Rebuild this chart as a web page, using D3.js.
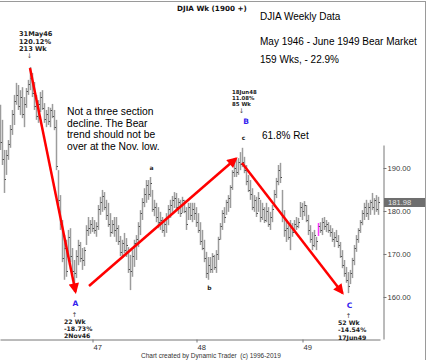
<!DOCTYPE html>
<html><head><meta charset="utf-8">
<script src="https://cdn.jsdelivr.net/npm/d3@7"></script>
<style>body{margin:0;background:#fff}svg{display:block}</style>
</head><body>
<script>
// ---- data (weekly DJIA bars) ----
const startDate = new Date(1946, 1, 15);
const highs = [204.7,201.2,194.2,194.2,196.5,200.0,203.5,207.0,209.8,209.3,
208.1,208.8,206.5,208.6,210.5,213.5,212.1,210.0,207.0,205.8,
207.7,208.1,205.1,203.5,204.2,204.0,204.9,203.5,201.2,189.5,
183.7,177.9,174.4,173.3,175.6,176.0,171.4,168.6,170.9,173.3,
172.8,171.4,171.6,176.7,178.6,177.9,178.6,177.9,177.4,181.4,
183.3,184.9,184.4,182.6,181.9,179.5,177.9,178.6,178.6,176.7,
174.2,173.3,174.9,173.7,171.6,169.8,170.9,173.3,174.4,177.4,
180.2,183.0,185.3,187.2,187.2,187.9,184.9,182.6,181.9,180.9,
179.8,178.6,177.9,179.5,181.4,182.6,183.5,184.4,184.2,183.0,
182.6,183.3,182.6,180.9,181.9,181.9,181.9,181.9,180.9,179.5,
177.4,175.6,173.3,170.5,169.3,169.3,170.2,169.8,170.9,174.0,
177.2,180.2,180.9,182.6,183.7,186.0,189.5,192.3,191.9,192.3,
193.7,194.7,192.6,190.7,188.4,187.2,185.3,183.7,183.3,184.4,
182.6,181.9,180.9,181.9,180.9,179.8,181.4,184.9,187.7,190.7,
191.2,184.9,180.2,177.9,176.7,177.9,177.2,177.9,178.6,178.4,
182.1,181.9,182.3,181.4,179.1,176.7,175.1,175.6,174.0,177.2,
177.4,178.4,178.6,177.9,177.4,176.7,176.0,175.1,175.6,174.4,
172.8,170.9,168.6,167.0,165.8,166.3,169.1,172.1,174.4,176.0,
177.9,180.2,181.9,182.6,181.9,182.6,184.2,183.0,183.7,183.3];
const lows = [194.2,190.7,184.2,188.4,191.9,194.7,197.7,200.0,204.7,203.5,
202.3,201.6,199.5,204.0,207.0,208.1,206.5,203.5,201.2,200.5,
203.0,203.5,200.5,199.5,200.0,199.5,201.6,198.8,189.5,181.4,
175.6,168.1,164.0,164.7,169.1,168.1,165.1,161.2,164.4,167.4,
168.1,166.3,167.2,172.1,174.2,174.7,175.1,174.7,174.0,175.6,
179.1,179.8,180.2,177.9,176.3,174.0,174.7,174.0,172.8,172.1,
169.5,169.1,170.2,169.3,165.6,161.6,164.7,167.0,168.6,171.6,
174.4,177.9,180.9,181.9,182.6,183.3,179.8,178.8,177.4,176.0,
175.6,174.9,174.0,174.9,176.7,178.4,179.8,180.7,180.2,179.3,
178.6,179.5,179.5,175.6,177.9,177.9,177.4,177.9,176.3,174.9,
172.1,170.9,168.1,164.4,164.0,165.6,165.6,166.3,165.6,168.6,
173.3,175.6,177.2,179.1,179.8,180.7,184.9,187.9,187.9,188.4,
189.5,190.2,188.8,186.0,184.4,182.6,180.2,179.8,178.6,179.8,
177.4,177.9,177.2,177.4,176.3,175.6,177.4,180.9,183.0,186.0,
186.5,177.4,174.0,172.8,173.3,170.9,174.0,174.9,175.6,176.0,
178.6,177.9,178.8,177.4,174.4,172.6,170.9,171.6,170.9,174.2,
174.9,174.4,175.6,175.1,174.9,174.0,172.8,171.6,172.8,171.4,
169.1,166.7,164.7,163.3,160.9,163.0,164.4,167.4,170.5,172.6,
174.9,176.7,177.9,178.6,177.9,179.1,180.2,179.1,179.8,179.1];
const closes = [196.0,192.0,187.5,193.0,195.5,199.0,202.5,205.5,207.0,204.5,
206.5,202.5,205.0,208.0,209.5,211.0,207.5,204.5,202.0,205.0,
206.5,204.0,201.5,202.5,201.0,203.5,202.0,199.5,190.5,182.5,
177.0,169.0,171.5,166.0,174.0,169.5,166.0,165.5,169.5,172.0,
169.0,168.5,171.0,175.5,176.0,177.0,176.0,175.5,176.5,180.5,
182.0,183.5,181.0,179.0,177.0,175.0,177.0,175.5,176.0,173.0,
170.5,172.5,171.0,172.0,166.5,166.0,169.5,172.5,173.5,176.5,
179.5,182.0,184.0,186.0,184.0,186.5,180.5,181.0,178.5,177.5,
178.0,175.5,177.0,178.5,180.5,181.5,182.5,183.0,181.0,182.0,
179.5,182.5,180.0,177.0,181.0,179.0,180.5,179.5,177.5,175.5,
173.0,171.5,169.0,165.5,167.5,166.5,169.5,167.0,170.0,173.5,
176.5,179.5,178.5,182.0,183.0,185.5,189.0,190.0,189.0,191.5,
191.0,191.5,189.5,187.0,185.0,184.0,181.0,182.5,179.5,183.0,
178.5,180.5,178.0,180.0,177.0,178.5,180.5,184.0,187.0,189.5,
188.0,178.5,175.5,176.0,174.0,176.5,175.0,177.0,176.5,177.5,
181.0,180.0,181.5,178.0,175.5,173.5,172.0,174.5,173.0,176.5,
175.5,177.5,176.5,177.0,175.5,175.0,173.5,174.0,173.0,172.0,
169.5,167.5,165.5,164.0,162.5,165.5,168.5,171.5,173.5,175.5,
177.5,179.5,181.0,179.5,181.0,182.0,181.0,182.5,180.5,181.98];
const yTicks = [160, 170, 180, 190];
const yearValues = [1947, 1948, 1949];
const yearLabels = ["47", "48", "49"];
const highlightWeek = 159;
// arrows: [week index, price] start -> end
const arrows = [
  [[14.75, 213.26], [37.5, 161.2]],
  [[44.25, 162.56], [117.75, 192.2]],
  [[120.75, 191.16], [171.0, 160.93]]
];
const pivotLabels = [
  {week: 15, letter: "", lines: ["31May46", "120.12%", "213 Wk"], pos: "top", size: 6.6},
  {week: 37, letter: "A", lines: ["22 Wk", "-18.73%", "2Nov46"], pos: "bottom", size: 6.2},
  {week: 121, letter: "B", lines: ["18Jun48", "11.08%", "85 Wk"], pos: "top", size: 5.4},
  {week: 174, letter: "C", lines: ["52 Wk", "-14.54%", "17Jun49"], pos: "bottom", size: 6.2}
];
const waveLabels = [{week: 75.5, price: 189.6, t: "a"}, {week: 104.5, price: 161.6, t: "b"}, {week: 121.5, price: 196.6, t: "c"}];
const infoLines = ["DJIA Weekly Data", "May 1946 - June 1949 Bear Market", "159 Wks, - 22.9%"];
const noteLines = ["Not a three section", "decline. The Bear", "trend should not be", "over at the Nov. low."];

// ---- drawing ----
const W = 429, H = 360;
const svg = d3.select("body").append("svg").attr("width", W).attr("height", H);
const weeks = d3.range(highs.length).map(i => ({i, date: d3.timeDay.offset(startDate, 7 * i), h: highs[i], l: lows[i], c: closes[i]}));

const x = d3.scaleLinear().domain([-0.25, 189.75]).range([0, 380]);
const y = d3.scaleLinear().domain([150.23, 195.35]).range([339, 145]);

// frame lines
svg.append("line").attr("x1", 0).attr("x2", 426).attr("y1", 1.5).attr("y2", 1.5).attr("stroke", "#9a9a9a");
svg.append("line").attr("x1", 425.5).attr("x2", 425.5).attr("y1", 1.5).attr("y2", H).attr("stroke", "#9a9a9a");

// bars
const bars = svg.append("g");
bars.selectAll("line.hl").data(weeks).join("line").attr("class", "hl")
  .attr("x1", d => x(d.i)).attr("x2", d => x(d.i))
  .attr("y1", d => y(d.h)).attr("y2", d => y(d.l))
  .attr("stroke", d => d.i === highlightWeek ? "#ff33ff" : "#9c9c9c").attr("stroke-width", 1.5);
bars.selectAll("line.cl").data(weeks).join("line").attr("class", "cl")
  .attr("x1", d => x(d.i) + 0.2).attr("x2", d => x(d.i) + 1.5)
  .attr("y1", d => Math.round(y(d.c)) + 0.5).attr("y2", d => Math.round(y(d.c)) + 0.5)
  .attr("stroke", "#4a4a4a").attr("stroke-width", 1);

// y axis (right)
const gy = svg.append("g").attr("transform", "translate(383.5,0)")
  .call(d3.axisRight(y).tickValues(yTicks).tickFormat(d3.format(".2f")).tickSize(3).tickSizeOuter(0).tickPadding(1));
gy.select(".domain").attr("stroke", "#777");
gy.selectAll(".tick line").attr("stroke", "#777");
gy.selectAll("text").attr("font-family", "Liberation Sans, Arial, sans-serif").attr("font-size", 7.6).attr("fill", "#3a3a3a");

// last price box
const last = weeks[weeks.length - 1];
svg.append("rect").attr("x", 384).attr("y", y(last.c) - 4.5).attr("width", 41).attr("height", 9).attr("fill", "#6e6e6e");
svg.append("text").attr("x", 388).attr("y", y(last.c) + 2.8).text(d3.format(".2f")(last.c))
  .attr("font-family", "Liberation Sans, Arial, sans-serif").attr("font-size", 7.6).attr("fill", "#e6e6e6");

// x axis (bottom)
const yearIdx = yearValues.map(yr => weeks.find(d => d.date.getFullYear() === yr).i);
const gx = svg.append("g").attr("transform", "translate(0,339.5)")
  .call(d3.axisBottom(x).tickValues(yearIdx).tickFormat((d, k) => yearLabels[k]).tickSize(3).tickSizeOuter(0).tickPadding(2));
gx.select(".domain").attr("stroke", "#777");
gx.selectAll(".tick line").attr("stroke", "#777");
gx.selectAll("text").attr("text-anchor", "start").attr("dx", 0.5)
  .attr("font-family", "Liberation Sans, Arial, sans-serif").attr("font-size", 7.6).attr("fill", "#333");

// red arrows
const defs = svg.append("defs");
defs.append("marker").attr("id", "ah").attr("viewBox", "0 0 10 10").attr("refX", 8).attr("refY", 5)
  .attr("markerWidth", 5).attr("markerHeight", 4.2).attr("orient", "auto").attr("markerUnits", "strokeWidth")
  .append("path").attr("d", "M0,0L10,5L0,10z").attr("fill", "#ff0000");
svg.append("g").selectAll("line").data(arrows).join("line")
  .attr("x1", d => x(d[0][0])).attr("y1", d => y(d[0][1]))
  .attr("x2", d => x(d[1][0])).attr("y2", d => y(d[1][1]))
  .attr("stroke", "#ff0000").attr("stroke-width", 2.5).attr("marker-end", "url(#ah)");

// pivot annotations
const bold = "DejaVu Sans, Verdana, sans-serif";
pivotLabels.forEach(p => {
  const px = x(p.week);
  const g = svg.append("g").attr("font-family", bold).attr("font-weight", "bold").attr("fill", "#222");
  if (p.pos === "top") {
    const extreme = y(highs[p.week]);
    const lh = p.size * 1.12;
    const arrowY = p.week === 15 ? extreme - 14 : extreme - 40;
    const textX = px - (p.week === 15 ? 11.5 : 10.5);
    p.lines.forEach((t, k) => g.append("text").attr("x", textX).attr("y", arrowY - 2 - (p.lines.length - 1 - k) * lh)
      .attr("font-size", p.size).text(t));
    g.append("text").attr("x", px - 1).attr("y", arrowY + 5).attr("text-anchor", "middle")
      .attr("font-size", 6.5).attr("font-weight", "normal").attr("fill", "#444").text("↓");
    if (p.letter) svg.append("text").attr("x", px + 3.5).attr("y", arrowY + 16).attr("text-anchor", "middle")
      .attr("font-family", bold).attr("font-weight", "bold").attr("font-size", 7.5).attr("fill", "#3322ee").text(p.letter);
  } else {
    const extreme = y(lows[p.week]);
    svg.append("text").attr("x", px + 1).attr("y", extreme + 14.5).attr("text-anchor", "middle")
      .attr("font-family", bold).attr("font-weight", "bold").attr("font-size", 7.5).attr("fill", "#3322ee").text(p.letter);
    g.append("text").attr("x", px).attr("y", extreme + 25).attr("text-anchor", "middle")
      .attr("font-size", 6.5).attr("font-weight", "normal").attr("fill", "#444").text("↑");
    p.lines.forEach((t, k) => g.append("text").attr("x", px - 10.5).attr("y", extreme + 32 + k * 7.3)
      .attr("font-size", p.size).text(t));
  }
});

// wave labels a b c
svg.append("g").selectAll("text").data(waveLabels).join("text")
  .attr("x", d => x(d.week)).attr("y", d => y(d.price)).attr("text-anchor", "middle")
  .attr("font-family", bold).attr("font-weight", "bold").attr("font-size", 6).attr("fill", "#222").text(d => d.t);

// title
svg.append("text").attr("x", 177).attr("y", 10.5).text("DJIA Wk (1900 +)")
  .attr("font-family", bold).attr("font-weight", "bold").attr("font-size", 7.2).attr("fill", "#111");

// info block
const sans = "Liberation Sans, Arial, sans-serif";
svg.append("g").selectAll("text").data(infoLines).join("text")
  .attr("x", 260).attr("y", (d, k) => [20, 45, 63][k]).text(d => d)
  .attr("font-family", sans).attr("font-size", 10).attr("fill", "#000");
svg.append("text").attr("x", 262).attr("y", 138.5).text("61.8% Ret")
  .attr("font-family", sans).attr("font-size", 10).attr("fill", "#000");

// note
svg.append("g").selectAll("text").data(noteLines).join("text")
  .attr("x", 67).attr("y", (d, k) => 115 + k * 11.5).text(d => d)
  .attr("font-family", sans).attr("font-size", 10.3).attr("fill", "#000");

// credit
svg.append("text").attr("x", 141).attr("y", 357.5).text("Chart created by Dynamic Trader  (c) 1996-2019")
  .attr("font-family", sans).attr("font-size", 6.5).attr("fill", "#333").style("white-space", "pre");
</script>
</body></html>
